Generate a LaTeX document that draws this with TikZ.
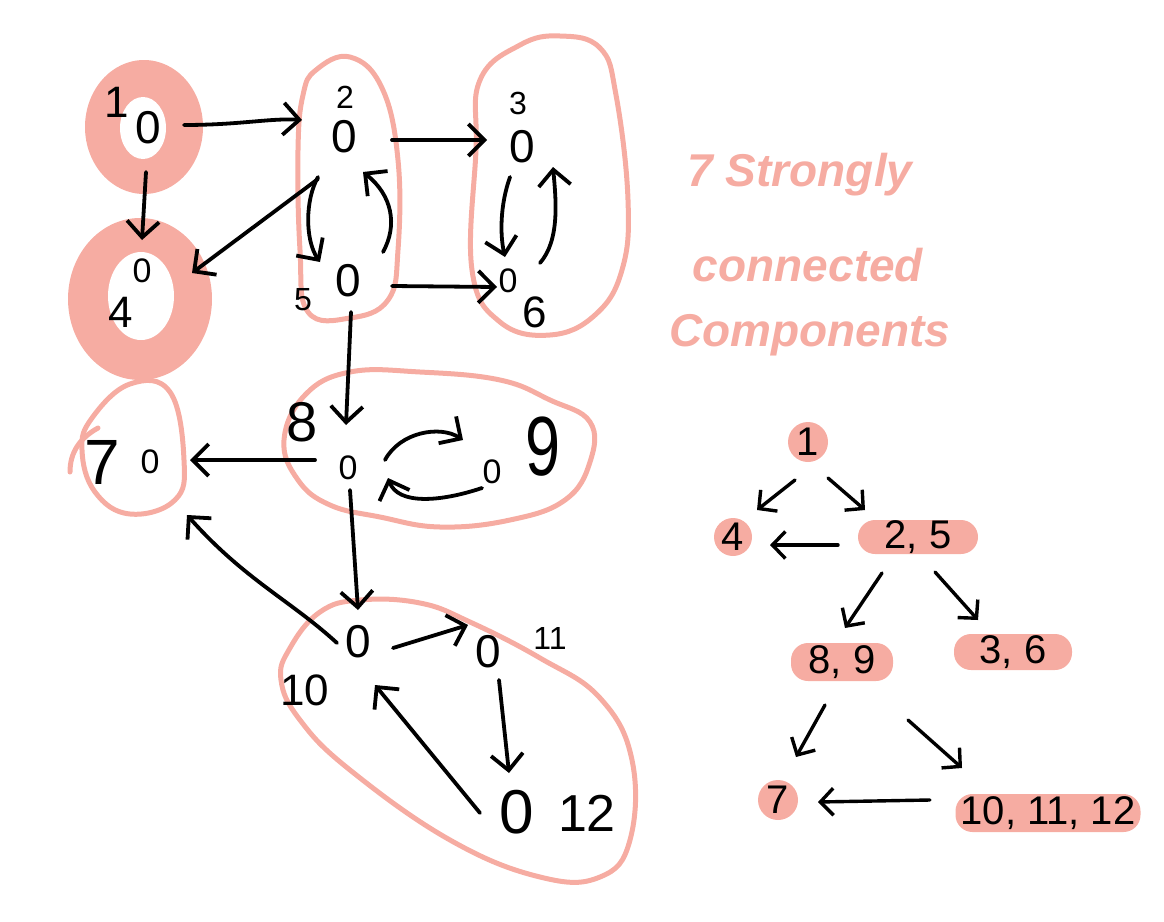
\documentclass[tikz,border=0pt]{standalone}
\usepackage{fontspec}
\setmainfont{Liberation Sans}
\usetikzlibrary{arrows.meta,calc}
\definecolor{pk}{RGB}{246,172,162}
\begin{document}
\begin{tikzpicture}[x=1pt,y=-1pt,
  edge/.style={line width=3.8pt,line cap=round,line join=round,-{Straight Barb[length=16pt,width=32pt]}},
  sedge/.style={line width=3.4pt,line cap=round,line join=round,-{Straight Barb[length=13pt,width=27pt]}},
  blob/.style={draw=pk,line width=5pt,line join=round},
  vtx/.style={font=\fontsize{46}{46}\selectfont,inner sep=0pt},
  svtx/.style={font=\fontsize{34}{34}\selectfont,inner sep=0pt},
  lab/.style={font=\fontsize{44}{44}\selectfont,inner sep=0pt},
  slab/.style={font=\fontsize{32}{32}\selectfont,inner sep=0pt},
  pinktext/.style={text=pk,font=\fontsize{46}{46}\selectfont\itshape\bfseries,inner sep=0pt},
  dag/.style={fill=pk,font=\fontsize{40}{40}\selectfont,inner sep=0pt,rounded corners=17pt},
  dagc/.style={fill=pk,circle,font=\fontsize{40}{40}\selectfont,inner sep=0pt,minimum size=40pt}]
\useasboundingbox (0,0) rectangle (1164,921);
% filled components 1 and 4
\fill[pk] (144,127) ellipse [x radius=59,y radius=67];
\fill[white] (143,128) ellipse [x radius=23,y radius=31];
\fill[pk] (140,299) ellipse [x radius=72,y radius=81];
\fill[white] (141,296) ellipse [x radius=33,y radius=44];
% outlined components
\draw[blob] plot[smooth cycle,tension=0.7] coordinates {(316,70) (350,57) (382,88) (398,160) (398,250) (388,300) (350,318) (308,312) (300,250) (298,150) (303,95)};
\draw[blob] plot[smooth cycle,tension=0.7] coordinates {(480,80) (520,45) (560,36) (600,48) (616,95) (628,200) (622,270) (595,315) (550,335) (500,322) (472,270) (476,150)};
\draw[blob] plot[smooth cycle,tension=0.7] coordinates {(92,418) (130,384) (170,392) (184,460) (175,500) (130,514) (95,492) (82,450)};
\draw[blob,line cap=round] (70,472) .. controls (70,452) and (80,438) .. (98,428);
\draw[blob] plot[smooth cycle,tension=0.7] coordinates {(284,440) (305,395) (350,372) (420,372) (500,380) (550,400) (590,422) (590,462) (565,500) (510,520) (440,527) (380,517) (330,505) (298,480)};
\draw[blob] plot[smooth cycle,tension=0.7] coordinates {(290,648) (320,612) (360,600) (420,603) (470,622) (540,658) (600,698) (632,760) (630,840) (600,877) (540,877) (450,840) (350,770) (300,720) (281,680)};
% vertices
\node[vtx] (v1) at (148,128) {0};
\node[vtx] (v2) at (344,137) {0};
\node[vtx] (v3) at (522,147) {0};
\node[svtx] (v4) at (142,271) {0};
\node[vtx] (v5) at (348,281) {0};
\node[svtx] (v6) at (508,281) {0};
\node[svtx] (v7) at (150,462) {0};
\node[svtx] (v8) at (348,468) {0};
\node[svtx] (v9) at (492,472) {0};
\node[vtx] (v10) at (358,642) {0};
\node[vtx] (v11) at (488,652) {0};
\node[font=\fontsize{62}{62}\selectfont,inner sep=0pt] (v12) at (517,812) {0};
% labels
\node[lab] (l1) at (117,102) {1};
\node[slab] (l2) at (345,97) {2};
\node[slab] (l3) at (518,103) {3};
\node[lab] (l4) at (121,312) {4};
\node[slab] (l5) at (303,300) {5};
\node[lab] (l6) at (535,312) {6};
\node[font=\fontsize{64}{64}\selectfont,inner sep=0pt] (l7) at (102,462) {7};
\node[font=\fontsize{56}{56}\selectfont,inner sep=0pt] (l8) at (302,422) {8};
\node[font=\fontsize{84}{84}\selectfont,inner sep=0pt,xscale=0.75] (l9) at (543,447) {9};
\node[lab] (l10) at (305,690) {10};
\node[slab] (l11) at (550,638) {11};
\node[font=\fontsize{52}{52}\selectfont,inner sep=0pt] (l12) at (587,813) {12};
% edges
\draw[edge] ($(v1)+(36,-3)$) .. controls (240,125) and (270,118) .. ($(v2)+(-42,-17)$);
\draw[edge] ($(v1)+(-2,44)$) -- ($(v4)+(0,-31)$);
\draw[edge] ($(v2)+(-26,42)$) -- ($(v4)+(50,2)$);
\draw[edge] ($(v2)+(-26,40)$) .. controls (305,200) and (305,240) .. ($(v5)+(-28,-19)$);
\draw[edge] ($(v5)+(35,-29)$) .. controls (398,225) and (392,195) .. ($(v2)+(19,35)$);
\draw[edge] ($(v2)+(48,3)$) -- ($(v3)+(-35,-7)$);
\draw[edge] ($(v5)+(44,5)$) -- ($(v6)+(-11,6)$);
\draw[edge] ($(v3)+(-12,30)$) .. controls (500,205) and (500,235) .. ($(v6)+(-3,-24)$);
\draw[edge] ($(v6)+(32,-18)$) .. controls (560,240) and (556,200) .. ($(v3)+(31,20)$);
\draw[edge] ($(v5)+(3,31)$) -- ($(v8)+(-2,-43)$);
\draw[edge] ($(v8)+(37,-8)$) .. controls (400,432) and (440,425) .. ($(v9)+(-29,-32)$);
\draw[edge] ($(v9)+(-10,16)$) .. controls (440,502) and (398,505) .. ($(v8)+(40,10)$);
\draw[edge] ($(v8)+(-33,-8)$) -- ($(v7)+(40,-2)$);
\draw[edge] ($(v8)+(2,22)$) -- ($(v10)+(0,-32)$);
\draw[edge] ($(v10)+(-21,1)$) .. controls (290,600) and (245,580) .. ($(l7)+(85,53)$);
\draw[edge] ($(v10)+(35,6)$) -- ($(v11)+(-20,-27)$);
\draw[edge] ($(v11)+(11,28)$) -- ($(v12)+(-8,-39)$);
\draw[edge] ($(v12)+(-37,1)$) -- ($(v10)+(17,43)$);
% title
\node[pinktext] (t1) at (800,175) {7 Strongly};
\node[pinktext] (t2) at (808,265) {connected};
\node[pinktext] (t3) at (810,335) {Components};
% condensed DAG
\node[dagc] (d1) at (808,442) {1};
\node[dagc,minimum size=38pt] (d4) at (733,537) {4};
\node[dag,minimum width=120pt,minimum height=34pt] (d25) at (918,537) {2, 5};
\node[dag,minimum width=102pt,minimum height=38pt] (d89) at (842,662) {8, 9};
\node[dag,minimum width=118pt,minimum height=36pt] (d36) at (1013,652) {3, 6};
\node[dagc] (d7) at (778,800) {7};
\node[dag,minimum width=185pt,minimum height=38pt] (d1012) at (1048,813) {10, 11, 12};
\draw[sedge] ($(d1)+(-13,38)$) -- ($(d4)+(24,-27)$);
\draw[sedge] ($(d1)+(20,36)$) -- ($(d25)+(-53,-27)$);
\draw[sedge] ($(d25)+(-80,8)$) -- ($(d4)+(37,8)$);
\draw[sedge] ($(d25)+(-36,36)$) -- ($(d89)+(3,-34)$);
\draw[sedge] ($(d25)+(17,35)$) -- ($(d36)+(-35,-32)$);
\draw[sedge] ($(d89)+(-17,43)$) -- ($(d7)+(18,-43)$);
\draw[sedge] ($(d89)+(66,58)$) -- ($(d1012)+(-86,-45)$);
\draw[sedge] ($(d1012)+(-118,-13)$) -- ($(d7)+(40,2)$);
\end{tikzpicture}
\end{document}
